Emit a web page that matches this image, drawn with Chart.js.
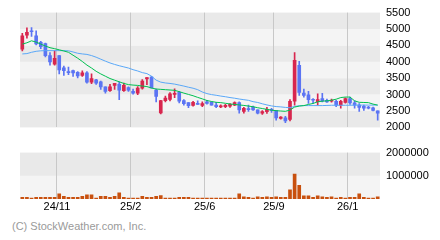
<!DOCTYPE html>
<html>
<head>
<meta charset="utf-8">
<script src="https://cdn.jsdelivr.net/npm/chart.js@4"></script>
<style>
  html, body { margin: 0; padding: 0; background: #fff; }
  #wrap { position: relative; width: 440px; height: 240px; overflow: hidden; }
  #price-chart { position: absolute; left: 0; top: 0; }
  #volume-chart { position: absolute; left: 0; top: 140px; }
  #credit { position: absolute; left: 12px; top: 220px; font: 11px 'Liberation Sans', Arial, sans-serif; color: #9a9a9a; }
</style>
</head>
<body>
<div id="wrap">
  <canvas id="price-chart" width="440" height="140"></canvas>
  <canvas id="volume-chart" width="440" height="80"></canvas>
  <div id="credit">(C) StockWeather.com, Inc.</div>
</div>
<script>
// Data (one entry per period, 78 periods)
const tickIndex = [8, 24, 40, 55, 71];
const tickText = ['24/11', '25/2', '25/6', '25/9', '26/1'];

const open = [4383, 4809, 4946, 4791, 4596, 4557, 4187, 3925, 4187, 3818, 3701, 3730, 3682, 3584, 3662, 3380, 3449, 3390, 3235, 3118,
  3283, 3312, 3118, 3216, 3099, 3041, 3196, 3478, 3536, 3137, 2438, 2817, 2856, 3002, 3070, 2817, 2758, 2671, 2720, 2671,
  2778, 2768, 2680, 2622, 2632, 2651, 2680, 2758, 2486, 2573, 2622, 2534, 2437, 2476, 2554, 2515, 2271, 2291, 2243, 2797,
  3896, 3050, 2992, 2856, 2788, 2875, 2827, 2797, 2797, 2680, 2758, 2875, 2749, 2680, 2641, 2622, 2593, 2506];
const high = [4867, 5033, 5043, 4946, 4625, 4567, 4284, 4333, 4187, 3866, 3837, 3750, 3701, 3721, 3700, 3633, 3468, 3410, 3235, 3310,
  3345, 3390, 3352, 3235, 3168, 3245, 3458, 3520, 3556, 3167, 2827, 2953, 3060, 3177, 3100, 2846, 2758, 2797, 2807, 2778,
  2827, 2790, 2768, 2690, 2700, 2729, 2778, 2778, 2612, 2680, 2651, 2534, 2515, 2612, 2583, 2515, 2330, 2340, 2850, 4284,
  4013, 3168, 3100, 2875, 3021, 3041, 2860, 2860, 2827, 2827, 2904, 2924, 2807, 2729, 2680, 2641, 2622, 2506];
const low = [4333, 4722, 4771, 4517, 4400, 4150, 3896, 3896, 3633, 3584, 3604, 3556, 3507, 3556, 3352, 3332, 3313, 3157, 3040, 3100,
  3157, 2846, 3100, 3100, 3010, 3000, 3168, 3300, 3206, 2778, 2409, 2778, 2808, 2905, 2750, 2680, 2603, 2651, 2700, 2632,
  2710, 2680, 2603, 2600, 2600, 2612, 2660, 2437, 2437, 2486, 2515, 2409, 2398, 2428, 2457, 2223, 2250, 2145, 2200, 2680,
  2973, 2924, 2729, 2729, 2680, 2778, 2760, 2770, 2632, 2583, 2740, 2700, 2583, 2486, 2515, 2560, 2500, 2223];
const close = [4791, 4896, 4917, 4548, 4459, 4187, 3993, 4109, 3750, 3730, 3672, 3662, 3566, 3662, 3380, 3487, 3351, 3235, 3099, 3235,
  3342, 3137, 3283, 3137, 3041, 3196, 3409, 3517, 3206, 2943, 2817, 2895, 3021, 3041, 2797, 2720, 2662, 2768, 2700, 2729,
  2729, 2680, 2632, 2661, 2670, 2700, 2758, 2534, 2583, 2544, 2534, 2437, 2486, 2554, 2515, 2291, 2311, 2194, 2797, 4042,
  3070, 2973, 2846, 2827, 2846, 2807, 2778, 2827, 2680, 2797, 2875, 2749, 2680, 2612, 2583, 2583, 2515, 2437];
const ma13 = [4540, 4580, 4640, 4600, 4540, 4480, 4430, 4400, 4365, 4330, 4290, 4200, 4110, 4010, 3900, 3810, 3710, 3630, 3560, 3490,
  3440, 3390, 3340, 3305, 3290, 3280, 3260, 3245, 3200, 3170, 3160, 3150, 3140, 3130, 3090, 3045, 3005, 2965, 2915, 2870,
  2820, 2790, 2765, 2755, 2735, 2715, 2700, 2685, 2670, 2650, 2630, 2600, 2575, 2550, 2525, 2510, 2500, 2490, 2530, 2620,
  2650, 2665, 2700, 2730, 2780, 2800, 2810, 2830, 2860, 2910, 2925, 2925, 2810, 2765, 2760, 2755, 2710, 2680];
const ma26 = [4240, 4250, 4290, 4320, 4335, 4340, 4340, 4340, 4340, 4338, 4335, 4300, 4260, 4240, 4225, 4190, 4140, 4080, 4020, 3965,
  3920, 3880, 3845, 3810, 3760, 3720, 3670, 3640, 3560, 3440, 3380, 3355, 3340, 3320, 3290, 3260, 3225, 3195, 3150, 3080,
  3030, 3000, 2980, 2955, 2935, 2910, 2890, 2865, 2845, 2825, 2785, 2760, 2720, 2685, 2655, 2635, 2625, 2610, 2600, 2640,
  2660, 2665, 2665, 2665, 2665, 2665, 2670, 2675, 2675, 2675, 2675, 2675, 2680, 2680, 2680, 2680, 2680, 2680];
const volume = [70000, 70000, 40000, 70000, 70000, 70000, 70000, 70000, 220000, 110000, 70000, 70000, 70000, 110000, 180000, 180000, 40000, 110000, 110000, 70000,
  110000, 270000, 70000, 40000, 40000, 40000, 110000, 70000, 70000, 110000, 150000, 40000, 40000, 40000, 70000, 70000, 70000, 40000, 40000, 40000,
  40000, 40000, 40000, 40000, 40000, 40000, 40000, 220000, 95000, 70000, 40000, 95000, 70000, 95000, 70000, 95000, 70000, 70000, 395000, 1075000,
  585000, 136000, 136000, 70000, 136000, 95000, 70000, 95000, 40000, 70000, 40000, 70000, 70000, 218000, 70000, 40000, 40000, 95000];

const categories = open.map((_, i) => {
  const k = tickIndex.indexOf(i);
  return k < 0 ? '' : tickText[k];
});

const chartConfig = {
  colors: {
    up: '#d8264e',
    down: '#5b74f3',
    ma13: '#00c050',
    ma26: '#5aa8f8',
    volume: '#c8500e',
    grid: '#c8c8c8',
    bandDark: '#e9e9e9',
    bandLight: '#f4f4f4',
  },
  font: { family: "'Liberation Sans', Arial, sans-serif", size: 11 },
};

Chart.defaults.font = chartConfig.font;
Chart.defaults.color = '#000';

const candleColors = open.map((o, i) => close[i] >= o ? chartConfig.colors.up : chartConfig.colors.down);

// Alternating horizontal bands between y ticks, bottom band first
const bandsPlugin = {
  id: 'bands',
  beforeDraw(chart, args, opts) {
    const { ctx, chartArea, scales: { y } } = chart;
    const ticks = y.ticks;
    ctx.save();
    for (let i = 0; i < ticks.length - 1; i++) {
      const top = y.getPixelForValue(ticks[i + 1].value);
      const bottom = y.getPixelForValue(ticks[i].value);
      ctx.fillStyle = opts.colors[i % opts.colors.length];
      ctx.fillRect(chartArea.left, top, chartArea.right - chartArea.left, bottom - top);
    }
    ctx.restore();
  }
};

const gridColor = ctx => categories[ctx.index] ? chartConfig.colors.grid : 'rgba(0,0,0,0)';

function xScale(showLabels) {
  return {
    offset: true,
    grid: { offset: true, drawTicks: false, color: gridColor, lineWidth: 1 },
    border: { display: false },
    ticks: {
      display: showLabels,
      autoSkip: false,
      maxRotation: 0,
      minRotation: 0,
      padding: 1,
      labelOffset: -2.3,
      callback: (v, i) => categories[i],
    },
    afterFit: s => { s.height = showLabels ? 21 : 0; },
  };
}

function yScale(min, max, step, hideZero) {
  return {
    position: 'right',
    min: min,
    max: max,
    grid: { display: false, drawTicks: false },
    border: { display: false },
    ticks: {
      stepSize: step,
      padding: 6,
      callback: v => (hideZero && v === 0) ? '' : String(v),
    },
    afterFit: s => { s.width = 60; },
  };
}

// Price chart: candles drawn as floating bars, moving averages as lines
new Chart(document.getElementById('price-chart'), {
  type: 'bar',
  data: {
    labels: categories,
    datasets: [
      { type: 'line', data: ma13, borderColor: chartConfig.colors.ma13, borderWidth: 1, pointRadius: 0, order: 0 },
      { type: 'line', data: ma26, borderColor: chartConfig.colors.ma26, borderWidth: 1, pointRadius: 0, order: 0 },
      {
        data: open.map((o, i) => [o, close[i]]),
        backgroundColor: candleColors,
        barThickness: 3,
        minBarLength: 1,
        grouped: false,
        order: 1,
      },
      {
        data: low.map((l, i) => [l, high[i]]),
        backgroundColor: candleColors,
        barThickness: 1,
        grouped: false,
        order: 2,
      },
    ]
  },
  options: {
    responsive: false,
    animation: false,
    layout: { padding: { left: 20, top: 10, bottom: 10, right: 0 } },
    plugins: {
      legend: { display: false },
      tooltip: { enabled: false },
      bands: { colors: [chartConfig.colors.bandDark, chartConfig.colors.bandLight] },
    },
    scales: {
      x: xScale(false),
      y: yScale(2000, 5500, 500, false),
    }
  },
  plugins: [bandsPlugin]
});

// Volume chart
new Chart(document.getElementById('volume-chart'), {
  type: 'bar',
  data: {
    labels: categories,
    datasets: [{
      data: volume,
      backgroundColor: chartConfig.colors.volume,
      barThickness: 3,
      minBarLength: 1,
    }]
  },
  options: {
    responsive: false,
    animation: false,
    layout: { padding: { left: 20, top: 10, bottom: 0, right: 0 } },
    plugins: {
      legend: { display: false },
      tooltip: { enabled: false },
      bands: { colors: [chartConfig.colors.bandLight, chartConfig.colors.bandDark] },
    },
    scales: {
      x: xScale(true),
      y: yScale(0, 2000000, 1000000, true),
    }
  },
  plugins: [bandsPlugin]
});
</script>
</body>
</html>
